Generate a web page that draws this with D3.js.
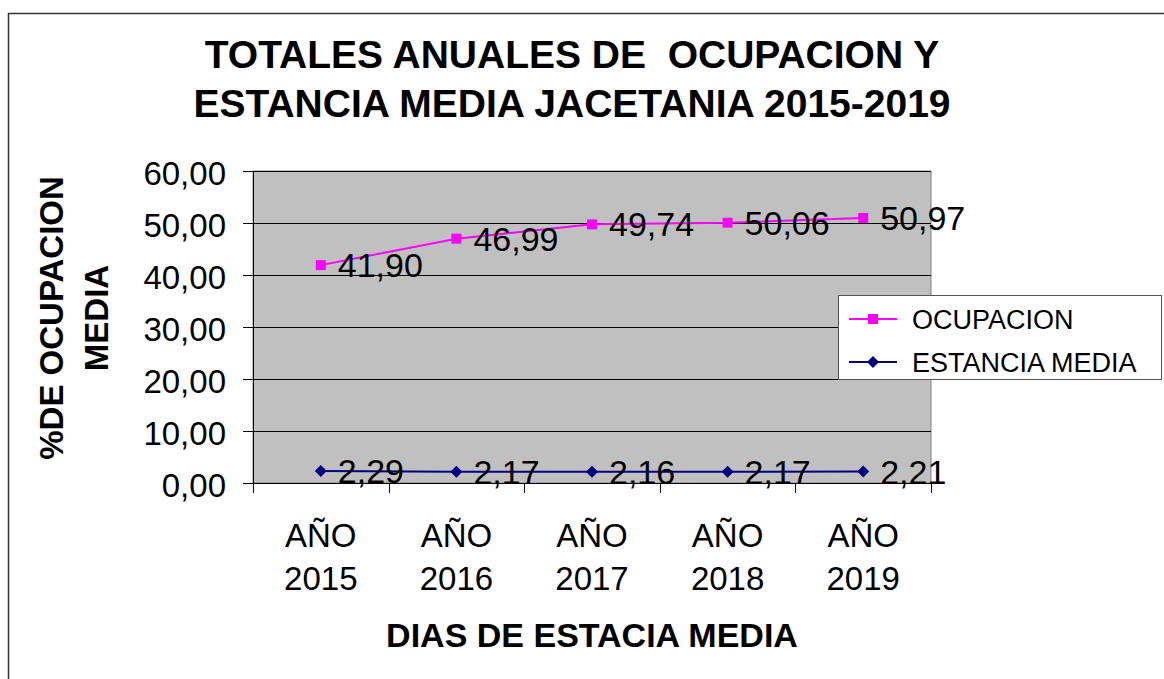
<!DOCTYPE html>
<html>
<head>
<meta charset="utf-8">
<script src="https://cdn.jsdelivr.net/npm/d3@7"></script>
<style>
    html, body { margin: 0; padding: 0; background: #fff; }
    svg { display: block; font-family: Arial, "Liberation Sans", sans-serif; }
    .pre { white-space: pre; }
</style>
</head>
<body>
<svg id="chart" width="1164" height="679"></svg>
<script>
// datos del gráfico
const CATEGORIES = ['AÑO 2015', 'AÑO 2016', 'AÑO 2017', 'AÑO 2018', 'AÑO 2019'];
const OCUPACION = [41.90, 46.99, 49.74, 50.06, 50.97];
const ESTANCIA = [2.29, 2.17, 2.16, 2.17, 2.21];
const Y_TICKS = [0, 10, 20, 30, 40, 50, 60];

const TITLE_LINES = ['TOTALES ANUALES DE  OCUPACION Y', 'ESTANCIA MEDIA JACETANIA 2015-2019'];
const Y_TITLE_LINES = ['%DE OCUPACION', 'MEDIA'];
const X_TITLE = 'DIAS DE ESTACIA MEDIA';

const COLORS = {
    ocupacion: '#ff00ff',
    estancia: '#000080',
    plot: '#c0c0c0'
};

const fmt = d3.formatLocale({ decimal: ',', thousands: '.', grouping: [3], currency: ['', '€'] }).format('.2f');

const svg = d3.select('#chart');
const plot = { left: 253, top: 171, right: 931, bottom: 483 };

// marco exterior (recortado a la derecha y abajo)
svg.append('rect')
    .attr('x', 8.5).attr('y', 13.5)
    .attr('width', 1200).attr('height', 700)
    .attr('fill', 'none')
    .attr('stroke', '#333')
    .attr('stroke-width', 1.5);

const x = d3.scaleBand()
    .domain(CATEGORIES)
    .range([plot.left, plot.right]);

const y = d3.scaleLinear()
    .domain([0, 60])
    .range([plot.bottom, plot.top]);

const cx = d => x(d) + x.bandwidth() / 2;

// fondo del área de trazado
svg.append('rect')
    .attr('x', plot.left).attr('y', plot.top)
    .attr('width', plot.right - plot.left)
    .attr('height', plot.bottom - plot.top)
    .attr('fill', COLORS.plot)
    .attr('stroke', '#808080')
    .attr('stroke-width', 1);

// líneas de división
svg.append('g')
    .selectAll('line')
    .data(Y_TICKS.filter(t => t > 0))
    .join('line')
    .attr('x1', plot.left).attr('x2', plot.right)
    .attr('y1', d => Math.round(y(d)) + 0.5)
    .attr('y2', d => Math.round(y(d)) + 0.5)
    .attr('stroke', '#000')
    .attr('stroke-width', 1);

// eje Y
const yAxis = svg.append('g')
    .attr('transform', `translate(${plot.left},0)`)
    .call(d3.axisLeft(y).tickValues(Y_TICKS).tickSize(10).tickPadding(17).tickFormat(fmt));
yAxis.select('.domain').attr('stroke', '#000');
yAxis.selectAll('.tick line').attr('stroke', '#000');
yAxis.selectAll('.tick text')
    .attr('font-size', 33)
    .attr('font-family', 'Arial, "Liberation Sans", sans-serif')
    .attr('fill', '#000')
    .attr('dy', '0.4em');

// eje X
const xAxis = svg.append('g')
    .attr('transform', `translate(0,${plot.bottom})`);
xAxis.append('line')
    .attr('x1', plot.left).attr('x2', plot.right)
    .attr('y1', 0.5).attr('y2', 0.5)
    .attr('stroke', '#000');
const bounds = CATEGORIES.map(c => x(c)).concat([plot.right]);
xAxis.selectAll('line.tick')
    .data(bounds)
    .join('line')
    .attr('class', 'tick')
    .attr('x1', d => Math.round(d) + 0.5).attr('x2', d => Math.round(d) + 0.5)
    .attr('y1', 0).attr('y2', 10)
    .attr('stroke', '#000');
const xLabel = xAxis.selectAll('text.cat')
    .data(CATEGORIES)
    .join('text')
    .attr('class', 'cat')
    .attr('x', d => cx(d))
    .attr('text-anchor', 'middle')
    .attr('font-size', 33)
    .attr('fill', '#000');
xLabel.append('tspan').attr('x', d => cx(d)).attr('y', 64).text(d => d.split(' ')[0]);
xLabel.append('tspan').attr('x', d => cx(d)).attr('y', 107).text(d => d.split(' ')[1]);

// rombo: cuadrado girado 45°
const diamond = {
    draw(ctx, size) {
        const r = Math.sqrt(size / 2);
        ctx.moveTo(0, -r);
        ctx.lineTo(r, 0);
        ctx.lineTo(0, r);
        ctx.lineTo(-r, 0);
        ctx.closePath();
    }
};

// series
const series = [
    { name: 'OCUPACION', values: OCUPACION, color: COLORS.ocupacion, marker: d3.symbolSquare, size: 100 },
    { name: 'ESTANCIA MEDIA', values: ESTANCIA, color: COLORS.estancia, marker: diamond, size: 72 }
];

const line = d3.line()
    .x((d, i) => cx(CATEGORIES[i]))
    .y(d => y(d));

series.forEach(s => {
    const g = svg.append('g');
    g.append('path')
        .attr('d', line(s.values))
        .attr('fill', 'none')
        .attr('stroke', s.color)
        .attr('stroke-width', 2);
    g.selectAll('path.marker')
        .data(s.values)
        .join('path')
        .attr('class', 'marker')
        .attr('d', d3.symbol().type(s.marker).size(s.size))
        .attr('transform', (d, i) => `translate(${cx(CATEGORIES[i])},${y(d)})`)
        .attr('fill', s.color);
    g.selectAll('text')
        .data(s.values)
        .join('text')
        .attr('x', (d, i) => cx(CATEGORIES[i]) + 17)
        .attr('y', d => y(d) + 12)
        .attr('font-size', 34)
        .attr('fill', '#000')
        .text(d => fmt(d));
});

// título
svg.append('text')
    .attr('class', 'pre')
    .attr('text-anchor', 'middle')
    .attr('font-size', 39)
    .attr('font-weight', 'bold')
    .selectAll('tspan')
    .data(TITLE_LINES)
    .join('tspan')
    .attr('x', 572)
    .attr('y', (d, i) => 68 + i * 49)
    .text(d => d);

// título eje Y
svg.append('text')
    .attr('transform', 'translate(0,318) rotate(-90)')
    .attr('text-anchor', 'middle')
    .attr('font-size', 33)
    .attr('font-weight', 'bold')
    .selectAll('tspan')
    .data(Y_TITLE_LINES)
    .join('tspan')
    .attr('x', 0)
    .attr('y', (d, i) => 63 + i * 45)
    .text(d => d);

// título eje X
svg.append('text')
    .attr('x', (plot.left + plot.right) / 2)
    .attr('y', 647)
    .attr('text-anchor', 'middle')
    .attr('font-size', 34)
    .attr('font-weight', 'bold')
    .text(X_TITLE);

// leyenda
const legend = svg.append('g').attr('transform', 'translate(838,295)');
legend.append('rect')
    .attr('x', 0.5).attr('y', 0.5)
    .attr('width', 323).attr('height', 84)
    .attr('fill', '#fff')
    .attr('stroke', '#555')
    .attr('stroke-width', 1);
const item = legend.selectAll('g.item')
    .data(series)
    .join('g')
    .attr('class', 'item')
    .attr('transform', (d, i) => `translate(0,${24 + i * 43})`);
item.append('line')
    .attr('x1', 11).attr('x2', 59)
    .attr('stroke', d => d.color)
    .attr('stroke-width', 2);
item.append('path')
    .attr('d', d => d3.symbol().type(d.marker).size(d.size)())
    .attr('transform', 'translate(35,0)')
    .attr('fill', d => d.color);
item.append('text')
    .attr('x', 74)
    .attr('dy', '0.36em')
    .attr('font-size', 27)
    .attr('fill', '#000')
    .text(d => d.name);
</script>
</body>
</html>
